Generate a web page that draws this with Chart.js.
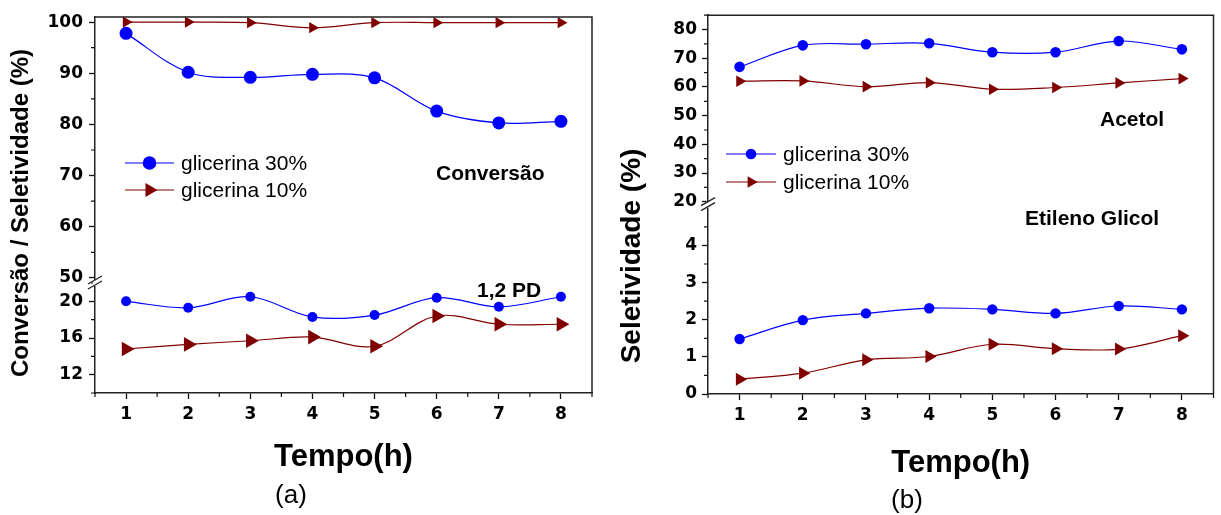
<!DOCTYPE html>
<html>
<head>
<meta charset="utf-8">
<script src="https://cdn.jsdelivr.net/npm/chart.js@4"></script>
<style>
  body { margin:0; background:#fff; width:1221px; height:515px; overflow:hidden; position:relative; font-family:"Liberation Sans", Arial, sans-serif; }
  canvas { position:absolute; top:0; }
  #ca { left:0; }
  #cb { left:610px; }
  .tag { position:absolute; font-size:26px; color:#000; transform:translate(-50%,-50%); }
</style>
</head>
<body>
<canvas id="ca" width="610" height="515"></canvas>
<canvas id="cb" width="611" height="515"></canvas>
<div class="tag" style="left:291px;top:494px">(a)</div>
<div class="tag" style="left:907px;top:499px">(b)</div>
<script>
/* tempo (h) */
const hours = [1, 2, 3, 4, 5, 6, 7, 8];
const xTicks = [1, 2, 3, 4, 5, 6, 7, 8];
const seriesNames = ['glicerina 30%', 'glicerina 10%'];

/* (a) conversao + 1,2 PD */
const conv30 = [97.8, 90.2, 89.2, 89.8, 89.1, 82.6, 80.3, 80.6];
const conv10 = [100, 100, 99.9, 98.9, 99.9, 99.9, 99.9, 99.9];
const pd30 = [20.0, 19.3, 20.5, 18.3, 18.5, 20.4, 19.4, 20.5];
const pd10 = [14.8, 15.3, 15.7, 16.1, 15.1, 18.4, 17.5, 17.5];
const aTopTicks = [50, 60, 70, 80, 90, 100];
const aBotTicks = [12, 16, 20];

/* (b) acetol + etileno glicol */
const acetol30 = [67.0, 74.5, 74.9, 75.2, 72.1, 72.1, 76.0, 73.1];
const acetol10 = [62.0, 62.1, 60.1, 61.5, 59.2, 59.8, 61.4, 62.9];
const eg30 = [1.48, 1.99, 2.17, 2.31, 2.28, 2.17, 2.37, 2.28];
const eg10 = [0.40, 0.56, 0.92, 1.01, 1.34, 1.22, 1.21, 1.57];
const bTopTicks = [20, 30, 40, 50, 60, 70, 80];
const bBotTicks = [0, 1, 2, 3, 4];

const BLUE = '#0000ff', RED = '#800000';
const TICK_FONT = { family: 'DejaVu Sans', weight: 'bold', size: 17 };

function series(label, vals, axis, kind, r) {
  const c = kind === 'circle' ? BLUE : RED;
  return {
    label, data: hours.map((h, i) => ({ x: h, y: vals[i] })), yAxisID: axis,
    borderColor: c, backgroundColor: c, borderWidth: 1.2,
    pointStyle: kind, pointRotation: kind === 'triangle' ? 90 : 0,
    pointRadius: r, pointBorderWidth: 0, tension: 0.35, clip: false
  };
}

function yScale(min, max, ticks, stackWeight, order, width, pad) {
  return {
    type: 'linear', position: 'left', stack: 'y', stackWeight, weight: order, min, max,
    afterBuildTicks: s => { s.ticks = ticks.map(v => ({ value: v })); },
    afterFit: s => { s.width = width; },
    grid: { display: true, drawOnChartArea: false, drawTicks: true, tickLength: 6, tickColor: '#111', tickWidth: 1.3 },
    border: { display: true, color: '#222', width: 1.5 },
    ticks: { color: '#000', padding: pad, font: TICK_FONT, autoSkip: false }
  };
}

function xScale(height, titlePad) {
  return {
    type: 'linear', min: 0.5, max: 8.5,
    afterBuildTicks: s => { s.ticks = xTicks.map(v => ({ value: v })); },
    afterFit: s => { s.height = height; },
    grid: { display: true, drawOnChartArea: false, drawTicks: true, tickLength: 6, tickColor: '#111', tickWidth: 1.3 },
    border: { display: true, color: '#222', width: 1.5 },
    ticks: { color: '#000', padding: 5, font: TICK_FONT, autoSkip: false, maxRotation: 0 },
    title: { display: true, text: 'Tempo(h)', color: '#000',
      font: { family: 'Liberation Sans', weight: 'bold', size: 31 }, padding: { top: 0, bottom: titlePad } }
  };
}

// frame, minor ticks, axis break, legend and texts
const decor = {
  id: 'decor',
  afterDraw(chart, args, o) {
    const { ctx, chartArea: ca, scales } = chart;
    ctx.save();
    ctx.strokeStyle = '#222'; ctx.lineWidth = 1.5;
    ctx.beginPath(); ctx.moveTo(ca.left, ca.top); ctx.lineTo(ca.right, ca.top); ctx.lineTo(ca.right, ca.bottom); ctx.stroke();

    // minor ticks halfway between majors
    ctx.lineWidth = 1.2; ctx.strokeStyle = '#111';
    Object.values(scales).forEach(s => {
      const t = s.ticks.map(k => k.value);
      const step = t[1] - t[0];
      ctx.beginPath();
      for (let v = t[0] - step / 2; v <= s.max + 1e-9; v += step) {
        if (v < s.min - 1e-9) continue;
        const p = s.getPixelForValue(v);
        if (s.isHorizontal()) { ctx.moveTo(p, ca.bottom); ctx.lineTo(p, ca.bottom + 4); }
        else { ctx.moveTo(s.right, p); ctx.lineTo(s.right - 4, p); }
      }
      ctx.stroke();
    });

    // axis break
    const ax = scales.yTop.right, by = scales.yTop.bottom;
    ctx.fillStyle = '#fff';
    ctx.fillRect(ax - 2, by - 3, 4, 6);
    ctx.strokeStyle = '#222'; ctx.lineWidth = 1.3;
    ctx.beginPath();
    ctx.moveTo(ax - 7, by + 1); ctx.lineTo(ax + 7, by - 7);
    ctx.moveTo(ax - 7, by + 6); ctx.lineTo(ax + 7, by - 2);
    ctx.stroke();

    // legend
    const ds = chart.data.datasets;
    o.legend.rows.forEach((y, i) => {
      const d = ds[i];
      ctx.strokeStyle = d.borderColor; ctx.lineWidth = 1.2;
      ctx.beginPath(); ctx.moveTo(o.legend.x0, y); ctx.lineTo(o.legend.x1, y); ctx.stroke();
      const cx = (o.legend.x0 + o.legend.x1) / 2;
      ctx.fillStyle = d.backgroundColor;
      ctx.beginPath();
      if (d.pointStyle === 'circle') {
        ctx.arc(cx, y, o.legend.r[i], 0, Math.PI * 2);
      } else {
        const r = o.legend.r[i];
        ctx.moveTo(cx + r, y); ctx.lineTo(cx - r / 2, y - r * 0.866); ctx.lineTo(cx - r / 2, y + r * 0.866);
        ctx.closePath();
      }
      ctx.fill();
      ctx.fillStyle = '#000'; ctx.font = '21px "Liberation Sans", Arial, sans-serif';
      ctx.textBaseline = 'middle'; ctx.textAlign = 'left';
      ctx.fillText(seriesNames[i], o.legend.tx, y + 1);
    });

    // annotation texts
    ctx.font = 'bold 21px "Liberation Sans", Arial, sans-serif';
    ctx.textBaseline = 'alphabetic';
    o.notes.forEach(n => ctx.fillText(n.text, n.x, n.y));

    // y title
    ctx.save();
    ctx.translate(o.ytitle.x, o.ytitle.y); ctx.rotate(-Math.PI / 2);
    ctx.font = `bold ${o.ytitle.size}px "Liberation Sans", Arial, sans-serif`;
    ctx.textAlign = 'center'; ctx.textBaseline = 'middle';
    ctx.fillText(o.ytitle.text, 0, 0);
    ctx.restore();
    ctx.restore();
  }
};

new Chart(document.getElementById('ca'), {
  type: 'line',
  data: { datasets: [
    series(seriesNames[0], conv30, 'yTop', 'circle', 6.5),
    series(seriesNames[1], conv10, 'yTop', 'triangle', 6.5),
    series(seriesNames[0], pd30, 'yBot', 'circle', 5),
    series(seriesNames[1], pd10, 'yBot', 'triangle', 8.5)
  ]},
  options: {
    responsive: false, animation: false,
    layout: { padding: { top: 17, right: 18, left: 0, bottom: 0 } },
    scales: {
      x: xScale(122, 39),
      yTop: yScale(49, 101, aTopTicks, 266, 1, 95, 6),
      yBot: yScale(10, 22, aBotTicks, 110, 0, 95, 6)
    },
    plugins: {
      legend: { display: false }, tooltip: { enabled: false },
      decor: {
        legend: { x0: 125, x1: 174, tx: 181, rows: [163, 190], r: [6.8, 8] },
        notes: [{ text: 'Conversão', x: 436, y: 180 }, { text: '1,2 PD', x: 477, y: 297 }],
        ytitle: { text: 'Conversão / Seletividade (%)', x: 21, y: 213, size: 24 }
      }
    }
  },
  plugins: [decor]
});

new Chart(document.getElementById('cb'), {
  type: 'line',
  data: { datasets: [
    series(seriesNames[0], acetol30, 'yTop', 'circle', 5.3),
    series(seriesNames[1], acetol10, 'yTop', 'triangle', 6.7),
    series(seriesNames[0], eg30, 'yBot', 'circle', 5.2),
    series(seriesNames[1], eg10, 'yBot', 'triangle', 7.5)
  ]},
  options: {
    responsive: false, animation: false,
    layout: { padding: { top: 6, right: 2, left: 0, bottom: 0 } },
    scales: {
      x: xScale(121, 33),
      yTop: yScale(19, 85, bTopTicks, 194, 1, 98, 5),
      yBot: yScale(0, 5.1, bBotTicks, 194, 0, 98, 5)
    },
    plugins: {
      legend: { display: false }, tooltip: { enabled: false },
      decor: {
        legend: { x0: 116, x1: 166, tx: 173, rows: [154, 182], r: [5.3, 6.7] },
        notes: [{ text: 'Acetol', x: 490, y: 126 }, { text: 'Etileno Glicol', x: 415, y: 225 }],
        ytitle: { text: 'Seletividade (%)', x: 22, y: 256, size: 28 }
      }
    }
  },
  plugins: [decor]
});
</script>
</body>
</html>
